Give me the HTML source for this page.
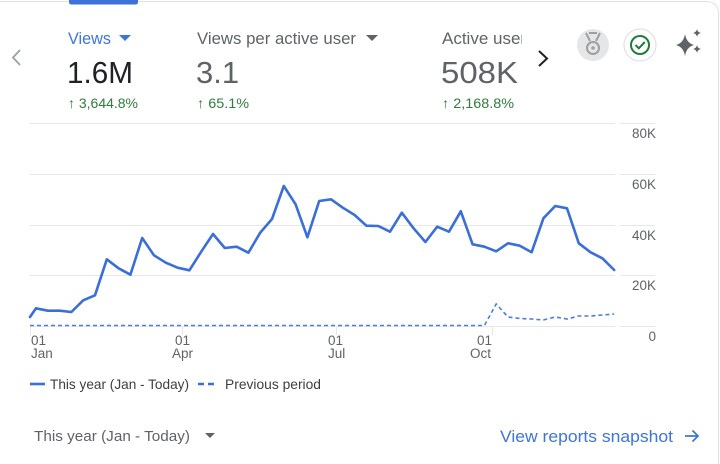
<!DOCTYPE html>
<html><head><meta charset="utf-8">
<style>
html,body{margin:0;padding:0;background:#fff;}
body{width:720px;height:464px;overflow:hidden;position:relative;font-family:"Liberation Sans",Arial,sans-serif;}
svg{position:absolute;left:0;top:0;}
</style></head>
<body>
<svg width="720" height="464" viewBox="0 0 720 464" xmlns="http://www.w3.org/2000/svg" font-family="Liberation Sans, Arial, sans-serif">
  <!-- card border -->
  <path d="M0 1.5 H706 Q718.5 1.5 718.5 14 V464" fill="none" stroke="#e3e3e3" stroke-width="1"/>
  <!-- active tab -->
  <path d="M69 0 H138 V2 Q138 4.5 135.5 4.5 H71.5 Q69 4.5 69 2 Z" fill="#3f72d8"/>

  <!-- left chevron -->
  <path d="M20 50 L13 57.5 L20 65" fill="none" stroke="#9aa0a6" stroke-width="1.8"/>
  <!-- metric 1 -->
  <text x="68" y="44" font-size="17" fill="#3f74dc" textLength="43" lengthAdjust="spacingAndGlyphs">Views</text>
  <path d="M119 35 H131 L125 41 Z" fill="#3f74dc"/>
  <text x="67" y="83" font-size="31" fill="#202124" textLength="66" lengthAdjust="spacingAndGlyphs">1.6M</text>
  <text x="68" y="108" font-size="14" fill="#2e7d3a" textLength="70" lengthAdjust="spacingAndGlyphs">↑ 3,644.8%</text>
  <!-- metric 2 -->
  <text x="197" y="44" font-size="17" fill="#5f6368" textLength="159" lengthAdjust="spacingAndGlyphs">Views per active user</text>
  <path d="M366 35 H378 L372 41 Z" fill="#5f6368"/>
  <text x="196" y="83" font-size="31" fill="#5f6368">3.1</text>
  <text x="197" y="108" font-size="14" fill="#2e7d3a" textLength="52" lengthAdjust="spacingAndGlyphs">↑ 65.1%</text>
  <!-- metric 3 -->
  <svg x="0" y="0" width="522" height="120" overflow="hidden">
    <text x="442" y="44" font-size="17" fill="#5f6368">Active users</text>
  </svg>
  <text x="441" y="83" font-size="31" fill="#5f6368" textLength="77" lengthAdjust="spacingAndGlyphs">508K</text>
  <text x="442" y="108" font-size="14" fill="#2e7d3a" textLength="72" lengthAdjust="spacingAndGlyphs">↑ 2,168.8%</text>
  <!-- right chevron -->
  <path d="M539 51 L547 58.5 L539 66" fill="none" stroke="#202124" stroke-width="2"/>

  <!-- icons -->
  <circle cx="593" cy="45" r="16" fill="#e6e6e6"/>
  <path d="M586 33 L590 41 M600 33 L596 41 M589 33 H597" stroke="#9aa0a6" stroke-width="2" fill="none"/>
  <circle cx="593" cy="48" r="6" fill="none" stroke="#9aa0a6" stroke-width="2"/>
  <circle cx="593" cy="48" r="1.8" fill="#9aa0a6"/>
  <circle cx="640" cy="45" r="16" fill="#fff" stroke="#dadce0" stroke-width="1"/>
  <circle cx="640" cy="45" r="9" fill="none" stroke="#1e7e34" stroke-width="2"/>
  <path d="M635.5 45 L638.8 48.3 L644.8 42" fill="none" stroke="#1e7e34" stroke-width="2"/>
  <!-- sparkle -->
  <path d="M685 34 Q686.5 43 694 45 Q686.5 47 685 56 Q683.5 47 676 45 Q683.5 43 685 34 Z" fill="#5f6368"/>
  <path d="M697 29 Q697.6 32.4 701 33 Q697.6 33.6 697 37 Q696.4 33.6 693 33 Q696.4 32.4 697 29 Z" fill="#5f6368"/>
  <path d="M697 45 Q697.6 48.4 701 49 Q697.6 49.6 697 53 Q696.4 49.6 693 49 Q696.4 48.4 697 45 Z" fill="#5f6368"/>

  <!-- gridlines -->
  <g stroke="#e6e7ea" stroke-width="1">
    <line x1="30" y1="123.5" x2="615" y2="123.5"/>
    <line x1="30" y1="174.5" x2="615" y2="174.5"/>
    <line x1="30" y1="225.5" x2="615" y2="225.5"/>
    <line x1="30" y1="275.5" x2="615" y2="275.5"/>
    <line x1="30" y1="326.5" x2="615" y2="326.5"/>
    <line x1="620" y1="123.5" x2="655" y2="123.5"/>
    <line x1="620" y1="174.5" x2="655" y2="174.5"/>
    <line x1="620" y1="225.5" x2="655" y2="225.5"/>
    <line x1="620" y1="275.5" x2="655" y2="275.5"/>
    <line x1="620" y1="326.5" x2="655" y2="326.5"/>
    <line x1="30.5" y1="326" x2="30.5" y2="335"/>
    <line x1="182.5" y1="326" x2="182.5" y2="335"/>
    <line x1="336.5" y1="326" x2="336.5" y2="335"/>
    <line x1="492.5" y1="326" x2="492.5" y2="335"/>
  </g>
  <!-- y labels -->
  <g font-size="13.5" fill="#5f6368" text-anchor="end">
    <text x="656" y="138">80K</text>
    <text x="656" y="189">60K</text>
    <text x="656" y="240">40K</text>
    <text x="656" y="290">20K</text>
    <text x="656" y="341">0</text>
  </g>
  <!-- x labels -->
  <g font-size="13.5" fill="#5f6368">
    <text x="31" y="345">01</text><text x="31" y="358">Jan</text>
    <text x="175" y="345">01</text><text x="172" y="358">Apr</text>
    <text x="328" y="345">01</text><text x="328" y="358">Jul</text>
    <text x="477" y="345">01</text><text x="470" y="358">Oct</text>
  </g>

  <!-- previous period -->
  <polyline fill="none" stroke="#4a7fe0" stroke-width="1.6" stroke-dasharray="4 3"
    points="30,325.5 484.4,325.5 496.2,304 508,317 519.8,318.5 531.6,319 543.4,320 555.2,317 567,319 578.8,316 590.6,316 602.4,315 614.2,314"/>
  <!-- this year -->
  <polyline fill="none" stroke="#3b6fd8" stroke-width="2.6" stroke-linejoin="round" stroke-linecap="round"
    points="30,317 36,308.3 47.8,310.7 59.6,310.7 71.4,312 83.2,300.3 95,295.3 106.8,259.3 118.6,268.3 130.4,274.7 142.2,238 154,255.3 165.8,262.7 177.6,267.7 189.4,270.3 201.2,251.7 213,234 224.8,248 236.6,246.7 248.4,252.7 260.2,232.7 272,219 283.8,186 295.6,204.3 307.4,237.3 319.2,201 331,199.3 342.8,207.7 354.6,215 366.4,225.7 378.2,226 390,231.7 401.8,212.7 413.6,228.3 425.4,242 437.2,226.7 449,231.7 460.8,211.3 472.6,244.3 484.4,246.7 496.2,251.3 508,243.3 519.8,245.7 531.6,252.3 543.4,218.3 555.2,206 567,208.3 578.8,243.3 590.6,252.3 602.4,258.3 614.2,270"/>

  <!-- legend -->
  <line x1="30" y1="384" x2="45" y2="384" stroke="#3b6fd8" stroke-width="2.6"/>
  <text x="50" y="389" font-size="14" fill="#3c4043" textLength="139" lengthAdjust="spacingAndGlyphs">This year (Jan - Today)</text>
  <line x1="198" y1="384" x2="215" y2="384" stroke="#3b6fd8" stroke-width="2.6" stroke-dasharray="6 4"/>
  <text x="225" y="389" font-size="14" fill="#3c4043" textLength="96" lengthAdjust="spacingAndGlyphs">Previous period</text>

  <!-- footer -->
  <text x="34" y="441" font-size="15" fill="#5f6368" textLength="156" lengthAdjust="spacingAndGlyphs">This year (Jan - Today)</text>
  <path d="M205 433 H215 L210 438 Z" fill="#5f6368"/>
  <text x="500" y="442" font-size="17" fill="#3f74dc" textLength="173" lengthAdjust="spacingAndGlyphs">View reports snapshot</text>
  <path d="M685 436 H698 M692.5 430.5 L698 436 L692.5 441.5" fill="none" stroke="#3f74dc" stroke-width="1.8"/>
</svg>
</body></html>
